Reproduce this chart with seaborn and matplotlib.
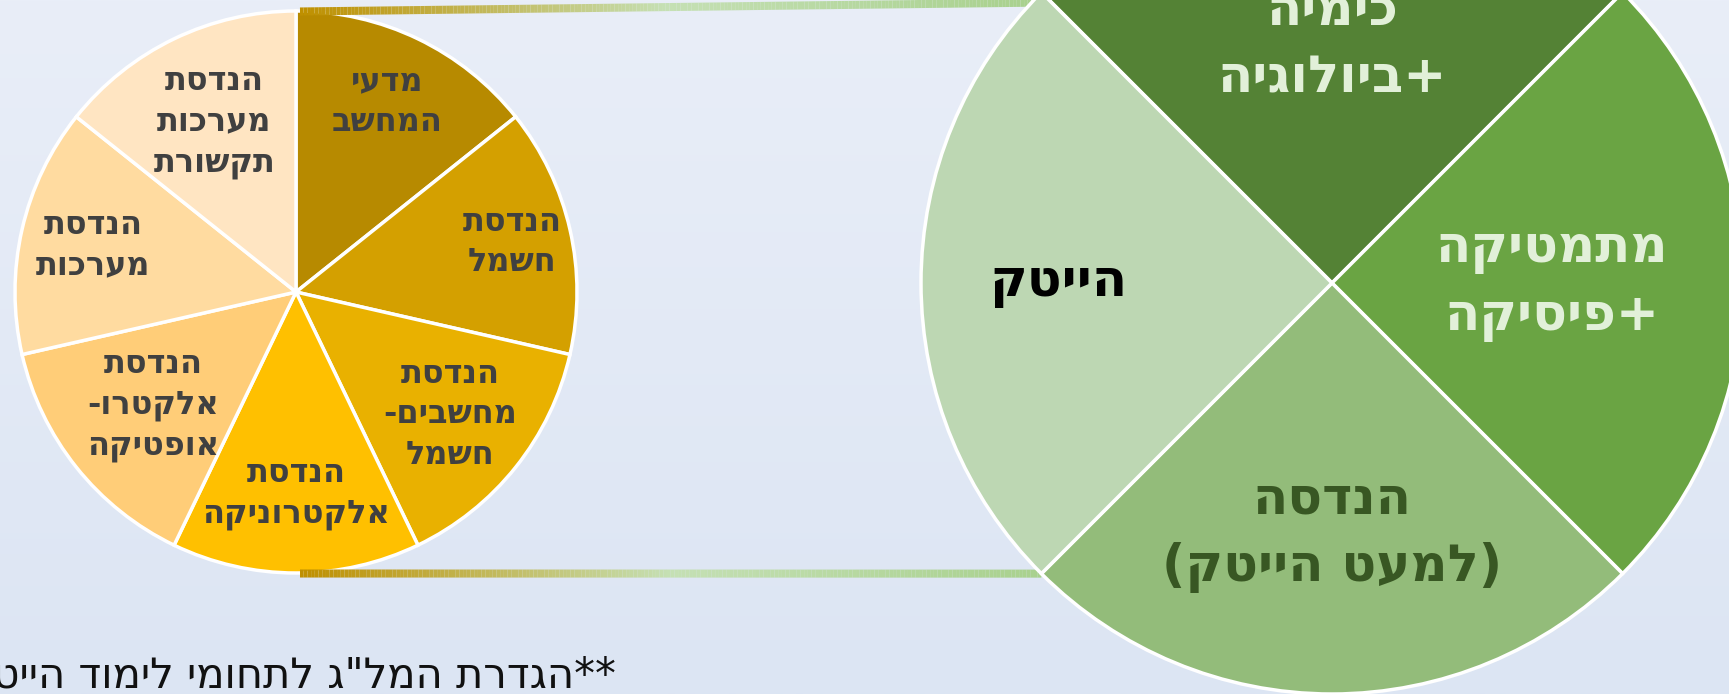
import numpy as np
import matplotlib
matplotlib.use("Agg")
import matplotlib.pyplot as plt
from matplotlib.collections import LineCollection
import seaborn as sns

sns.set_style("white")
plt.rcParams['font.family'] = ['DejaVu Sans']

# left pie: study fields counted as hi-tech
fields = ["מדעי\nהמחשב", "הנדסת\nחשמל", "הנדסת\nמחשבים-\nחשמל", "הנדסת\nאלקטרוניקה",
          "הנדסת\nאלקטרו-\nאופטיקה", "הנדסת\nמערכות", "הנדסת\nמערכות\nתקשורת"]
field_shares = [1, 1, 1, 1, 1, 1, 1]
field_colors = ["#B78A00", "#D4A000", "#E9B100", "#FFC000", "#FFCD78", "#FFDBA0", "#FFE5C2"]
field_label_dist = [0.75, 0.79, 0.70, 0.72, 0.65, 0.74, 0.67]

# right pie: broad areas
areas = ["כימיה\n+ביולוגיה", "מתמטיקה\n+פיסיקה", "הנדסה\n(למעט הייטק)", "הייטק"]
area_shares = [1, 1, 1, 1]
area_colors = ["#548235", "#6AA443", "#93BC7A", "#BDD7B3"]
area_text_colors = ["#E2F0D9", "#E2F0D9", "#385723", "#000000"]
area_label_dist = [0.58, 0.535, 0.61, 0.665]

footnote = "**הגדרת המל\"ג לתחומי לימוד הייטק"


def rtl(s):
    # matplotlib has no bidi support, so put hebrew lines in visual order
    swap = {"(": ")", ")": "("}
    return "\n".join("".join(swap.get(c, c) for c in line[::-1]) for line in s.split("\n"))


def place_labels(wedges, texts, center, radius, dists):
    for w, t, d in zip(wedges, texts, dists):
        mid = np.deg2rad((w.theta1 + w.theta2) / 2)
        t.set_position((center[0] + d * radius * np.cos(mid), center[1] + d * radius * np.sin(mid)))
        t.set_ha("center")
        t.set_va("center")


W, H = 1729, 694
fig = plt.figure(figsize=(W / 100, H / 100), dpi=100)
ax = fig.add_axes([0, 0, 1, 1])

# background gradient
bg_cmap = sns.blend_palette(["#E9EEF8", "#DCE5F3"], as_cmap=True)
ax.imshow(np.linspace(0, 1, 256)[:, None], cmap=bg_cmap, extent=(0, W, 0, H),
          aspect="auto", zorder=0)

left_c, left_r = (296, H - 292), 281
right_c, right_r = (1332, H - 283), 411

wl, tl = ax.pie(field_shares, labels=[rtl(f) for f in fields], colors=field_colors,
                startangle=90, counterclock=False, center=left_c, radius=left_r,
                wedgeprops=dict(edgecolor="white", linewidth=2.5),
                textprops=dict(fontsize=23, fontweight="bold", color="#404040",
                               linespacing=1.4))
place_labels(wl, tl, left_c, left_r, field_label_dist)
for w in wl:
    w.set_zorder(1)
for t in tl:
    t.set_zorder(5)

wr, tr = ax.pie(area_shares, labels=[rtl(a) for a in areas], colors=area_colors,
                startangle=135, counterclock=False, center=right_c, radius=right_r,
                wedgeprops=dict(edgecolor="white", linewidth=2.5),
                textprops=dict(fontsize=37, fontweight="bold", linespacing=1.45))
place_labels(wr, tr, right_c, right_r, area_label_dist)
for w in wr:
    w.set_zorder(3)
for t, col in zip(tr, area_text_colors):
    t.set_color(col)
    t.set_zorder(6)

# gradient connector bars from the left pie to the right pie
bar_cols = sns.blend_palette(["#BF9000", "#C5E0B4", "#A9D18E"], 200)


def connector(p0, p1):
    xs = np.linspace(p0[0], p1[0], 201)
    ys = np.linspace(p0[1], p1[1], 201)
    segs = [[(xs[i], ys[i]), (xs[i + 1], ys[i + 1])] for i in range(200)]
    lc = LineCollection(segs, colors=bar_cols, linewidths=5.8, capstyle="butt", zorder=2)
    ax.add_collection(lc)


a_top = np.deg2rad(137)
a_bot = np.deg2rad(225)
connector((left_c[0] + 4, left_c[1] + left_r - 0.5),
          (right_c[0] + right_r * np.cos(a_top), right_c[1] + right_r * np.sin(a_top)))
connector((left_c[0] + 4, left_c[1] - left_r - 0.5),
          (right_c[0] + right_r * np.cos(a_bot), right_c[1] + right_r * np.sin(a_bot)))

ax.text(616, H - 688, rtl(footnote), ha="right", va="baseline", fontsize=30, color="#111111")

ax.set_xlim(0, W)
ax.set_ylim(0, H)
ax.set_axis_off()

fig.savefig("out.png", dpi=100)
